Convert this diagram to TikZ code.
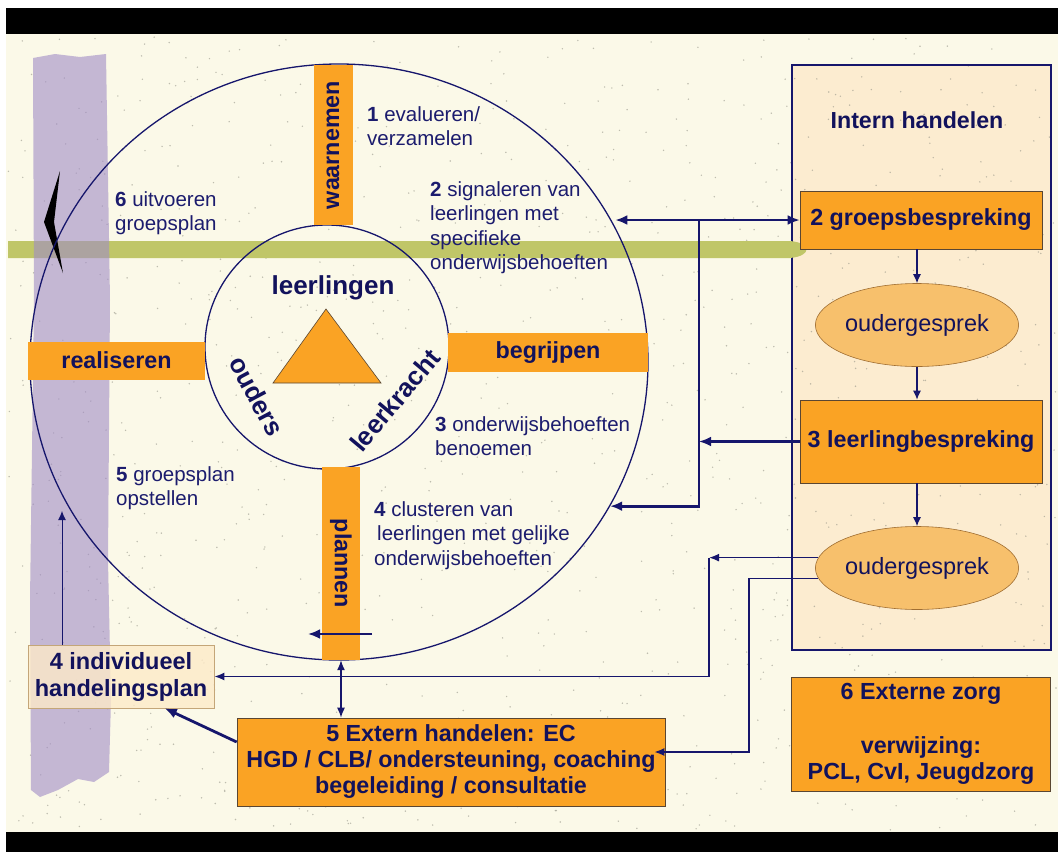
\documentclass[tikz,border=0pt]{standalone}
\usepackage{fontspec}
\setmainfont{Liberation Sans}
\usetikzlibrary{arrows.meta,shapes.geometric,positioning}

\definecolor{deepnavy}{RGB}{18,18,92}
\definecolor{inknavy}{RGB}{28,28,110}
\definecolor{linenavy}{RGB}{22,22,108}
\definecolor{paper}{RGB}{251,249,232}
\definecolor{stageorange}{RGB}{250,163,36}
\definecolor{framepeach}{RGB}{252,236,208}
\definecolor{talkfill}{RGB}{247,192,108}
\definecolor{talkline}{RGB}{160,110,50}
\definecolor{lavender}{RGB}{160,140,198}
\definecolor{olive}{RGB}{192,198,104}
\definecolor{planfill}{RGB}{253,234,200}
\definecolor{planline}{RGB}{196,166,120}
\definecolor{speck}{RGB}{140,140,128}
\definecolor{boxline}{RGB}{90,70,50}

\tikzset{
  stage/.style={fill=stageorange, text=deepnavy, inner sep=0pt,
    font=\fontsize{23.3}{26}\selectfont\bfseries},
  panel/.style={stage, draw=boxline, line width=0.6pt},
  talk/.style={ellipse, draw=talkline, fill=talkfill, line width=0.6pt,
    minimum width=168pt, minimum height=83pt, inner sep=0pt, text=deepnavy,
    font=\fontsize{23.5}{26}\selectfont},
  phase/.style={anchor=north west, align=left, inner sep=0pt, text=inknavy,
    font=\fontsize{20.5}{24.5}\selectfont},
  corner/.style={text=deepnavy, inner sep=0pt, font=\fontsize{26}{30}\selectfont\bfseries},
  link/.style={draw=linenavy, line width=2.8pt, arrows={-Latex[length=12pt,width=10pt]}},
  thinlink/.style={draw=linenavy, line width=1.7pt, arrows={-Latex[length=10pt,width=8pt]}},
  flow/.style={draw=linenavy, line width=1.2pt, arrows={-Latex[length=9pt,width=8pt]}}
}

\begin{document}
\begin{tikzpicture}[x=1pt, y=-1pt]
  \useasboundingbox (0,0) rectangle (1058,852);

  % backdrop
  \fill[white] (0,0) rectangle (1058,852);
  \fill[paper] (6,34) rectangle (1058,832);
  \fill[black] (6,8) rectangle (1058,34);
  \fill[black] (6,832) rectangle (1058,852);
  \fill[framepeach] (792,65) rectangle (1051,650);
  \pgfmathsetseed{42}
  \foreach \i in {1,...,1100}
    \fill[speck, opacity=0.55] ({8+1048*rnd},{36+794*rnd}) circle (0.8pt);
  \draw[linenavy, line width=1.6pt] (792,65) rectangle (1051,650);

  % bands
  \fill[olive] (8,241) -- (790,241) .. controls (812,243) and (812,256) .. (790,258) -- (8,258) -- cycle;
  \fill[lavender, opacity=0.6] (33,58) -- (55,54) -- (80,57) -- (106,54) -- (110,300)
    -- (108,560) -- (111,700) -- (109,772) -- (94,782) -- (78,779) -- (58,790)
    -- (40,797) -- (31,790) -- (30,600) -- (34,300) -- cycle;
  \fill[black] (60,171) -- (44,222) -- (63,273) -- (54,222) -- cycle;

  % circles
  \node[draw=linenavy, line width=1.3pt, ellipse, minimum width=618pt,
    minimum height=596pt, inner sep=0pt] (outer) at (339,362) {};
  \node[draw=linenavy, line width=1.3pt, circle, minimum size=244pt,
    inner sep=0pt] (inner) at (327,347) {};

  % the four stages
  \node[stage, rotate=90, minimum width=160pt, minimum height=39pt] (waar) at (333,145) {waarnemen};
  \node[stage, minimum width=200pt, minimum height=39pt] (begr) at (548,352.5) {begrijpen};
  \node[stage, minimum width=177pt, minimum height=38pt] (real) at (116.5,360.5) {realiseren};
  \node[stage, rotate=-90, minimum width=193pt, minimum height=38pt] (plan) at (341,563.5) {plannen};

  % triangle
  \filldraw[fill=stageorange, draw=boxline, line width=0.6pt] (326,309) -- (381,383) -- (273,383) -- cycle;
  \node[corner] (lrl) at (333,288) {leerlingen};
  \node[corner, rotate=-62] (oud) at (257,396) {ouders};
  \node[corner, rotate=50] (lkr) at (395,400) {leerkracht};

  % steps
  \node[phase] (s1) at (367,106) {\textbf{1} evalueren/\\verzamelen};
  \node[phase] (s2) at (430,181) {\textbf{2} signaleren van\\leerlingen met\\specifieke\\onderwijsbehoeften};
  \node[phase] (s6) at (115,191) {\textbf{6} uitvoeren\\groepsplan};
  \node[phase] (s3) at (435,416) {\textbf{3} onderwijsbehoeften\\benoemen};
  \node[phase] (s4) at (374,501) {\textbf{4} clusteren van\\\hspace*{3pt}leerlingen met gelijke\\onderwijsbehoeften};
  \node[phase] (s5) at (116,466) {\textbf{5} groepsplan\\opstellen};

  % intern handelen
  \node[text=deepnavy, font=\fontsize{23.2}{26}\selectfont\bfseries] (intern) at (917,120) {Intern handelen};
  \node[panel, minimum width=242pt, minimum height=58pt] (gb) at (921,220) {2 groepsbespreking};
  \node[talk] (oud1) at (917,325) {oudergesprek};
  \node[panel, minimum width=242pt, minimum height=83pt] (lb) at (921,441.5) {3 leerlingbespreking};
  \node[talk] (oud2) at (917,568) {oudergesprek};
  \node[panel, minimum width=259pt, minimum height=114pt, align=center] (ext6) at (921,734)
    {6 Externe zorg\\[28pt]verwijzing:\\PCL, CvI, Jeugdzorg};

  % bottom
  \node[panel, minimum width=428pt, minimum height=88pt, align=center] (ext5) at (451,762)
    {5 Extern handelen: EC\\HGD / CLB/ ondersteuning, coaching\\begeleiding / consultatie};
  \node[panel, fill=planfill, fill opacity=0.8, text opacity=1, draw=planline,
    minimum width=186pt, minimum height=63pt, align=center, font=\fontsize{23.5}{27}\selectfont\bfseries]
    (ihp) at (121,676.5) {4 individueel\\handelingsplan};

  \draw[flow] (gb.south -| oud1) -- (oud1.north);
  \draw[flow] (oud1.south) -- (lb.north -| oud1);
  \draw[flow] (lb.south -| oud1) -- (oud2.north);

  % connectors
  \coordinate (ring2) at (outer.26);
  \coordinate (ring4) at (outer.-28);
  \coordinate (jn) at (699,0);
  \coordinate (kinkA) at (709,0);
  \coordinate (kinkB) at (749,0);
  \coordinate (bandtip) at (62,511);
  \coordinate (planA) at (372,634);
  \coordinate (planB) at (308,634);

  \draw[link, arrows={Latex[length=12pt,width=10pt]-Latex[length=12pt,width=10pt]}] (gb.west) -- (gb.west -| ring2);
  \draw[link] (jn |- gb.west) |- (ring4);
  \draw[link] (lb.west) -- (lb.west -| jn);
  \draw[thinlink] (oud2.174) -- (oud2.174 -| kinkA);
  \draw[thinlink] (oud2.174 -| kinkA) |- (ihp.east);
  \draw[thinlink] (oud2.186) -- (oud2.186 -| kinkB) |- ([xshift=-11pt,yshift=10pt]ext5.east);
  \draw[thinlink, arrows={Latex[length=10pt,width=8pt]-Latex[length=10pt,width=8pt]}, line width=1.4pt] (plan.east) -- (plan.east |- ext5.north);
  \draw[link] ([yshift=20pt]ext5.west) -- (ihp.-36);
  \draw[flow, line width=1pt] (bandtip |- ihp.north) -- (bandtip);
  \draw[link] (planA) -- (planB);
\end{tikzpicture}
\end{document}
